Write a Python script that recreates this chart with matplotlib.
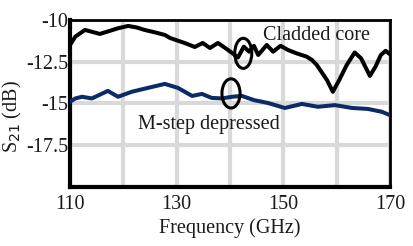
import matplotlib
matplotlib.use("Agg")
import matplotlib.pyplot as plt
from matplotlib.patches import Ellipse

plt.rcParams['font.family'] = ['Liberation Serif', 'DejaVu Serif']

# Cladded core (black)
clad_f = [110, 111, 112.8, 114, 115.6, 117.5, 119, 120.9, 122.5, 124, 126, 127.8,
          128.75, 131.5, 133.4, 134.9, 136.25, 137.75, 139.2, 140.5, 141.5, 142.6,
          143.6, 144.5, 145.3, 146.9, 148.1, 149.5, 150.9, 152.5, 154.4, 155.4,
          156.3, 158.2, 159.3, 160.5, 161.9, 163.4, 164.6, 166.25, 167.3, 168.3,
          169.2, 170]
clad_v = [-11.5, -11.0, -10.6, -10.7, -10.84, -10.65, -10.5, -10.36, -10.45, -10.6,
          -10.75, -10.9, -11.08, -11.38, -11.62, -11.38, -11.68, -11.38, -11.7, -12.0,
          -12.25, -11.6, -11.9, -11.55, -12.1, -11.5, -11.9, -11.55, -11.8, -12.0,
          -12.2, -12.4, -12.7, -13.6, -14.3, -13.6, -12.7, -11.95, -12.3, -13.35,
          -12.8, -12.1, -11.85, -12.05]

# M-step depressed (navy)
msd_f = [110, 111, 112.25, 114.1, 117.1, 119, 121.6, 124.6, 127.8, 130.25, 132.9,
         134.75, 136.6, 138.5, 140.4, 142.25, 144.5, 147.1, 150.3, 153.5, 156.5,
         159.7, 162.9, 165.9, 168.5, 170]
msd_v = [-14.9, -14.7, -14.6, -14.7, -14.25, -14.6, -14.3, -14.07, -13.83, -14.07,
         -14.55, -14.43, -14.67, -14.7, -14.6, -14.55, -14.8, -14.97, -15.27, -15.03,
         -15.2, -15.1, -15.27, -15.33, -15.5, -15.7]

x_ticks = [110, 120, 130, 140, 150, 160, 170]
x_labels = ['110', '', '130', '', '150', '', '170']
y_ticks = [-20, -17.5, -15, -12.5, -10]
y_labels = ['', '-17.5', '-15', '-12.5', '-10']

FS = 14.5
TC = '#1a1a1a'

fig = plt.figure(figsize=(4.13, 2.46), dpi=100)
ax = fig.add_axes([0.1695, 0.240, 0.7745, 0.679])

ax.plot(clad_f, clad_v, color='black', lw=2.9, solid_capstyle='round', zorder=3)
ax.plot(msd_f, msd_v, color='#0c2a68', lw=2.9, solid_capstyle='round', zorder=3)

ax.add_patch(Ellipse((142.5, -12.0), 3.2, 1.8, fill=False, ec='black', lw=2.2, zorder=4))
ax.add_patch(Ellipse((140.2, -14.4), 3.4, 1.75, fill=False, ec='black', lw=2.2, zorder=4))

ax.text(146.2, -10.95, 'Cladded core', fontsize=FS, va='center', ha='left', color=TC)
ax.text(122.8, -16.25, 'M-step depressed', fontsize=FS, va='center', ha='left', color=TC)

ax.set_xlim(110, 170)
ax.set_ylim(-20, -10)
ax.set_xticks(x_ticks)
ax.set_xticklabels(x_labels)
ax.set_yticks(y_ticks)
ax.set_yticklabels(y_labels)
ax.grid(True, color='#d9d9d9', lw=3, zorder=0)
ax.set_axisbelow(True)
ax.tick_params(axis='both', length=0, labelsize=FS, colors=TC)
ax.tick_params(axis='x', pad=6)
ax.tick_params(axis='y', pad=1)
for s in ['left', 'bottom']:
    ax.spines[s].set_linewidth(3)
for s in ['top', 'right']:
    ax.spines[s].set_linewidth(2)

ax.set_xlabel('Frequency (GHz)', fontsize=FS, color=TC, labelpad=3)
ax.set_ylabel('S$_{21}$ (dB)', fontsize=FS, color=TC)
ax.yaxis.set_label_coords(-0.145, 0.42)

fig.savefig('out.png', dpi=100)
